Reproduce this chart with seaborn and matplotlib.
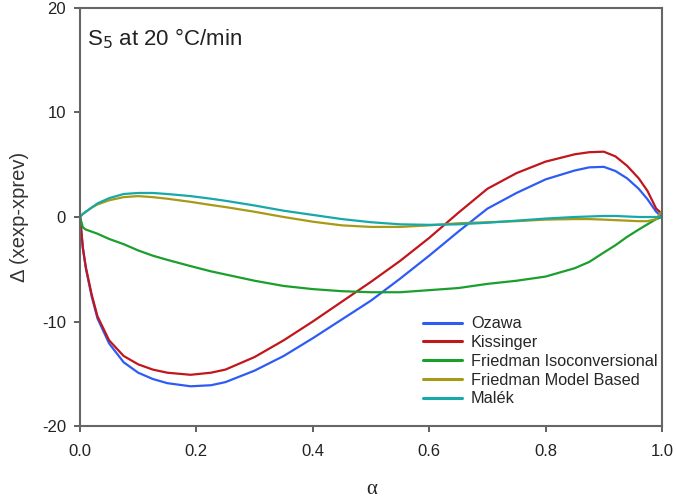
import numpy as np
import pandas as pd
import matplotlib
matplotlib.use("Agg")
import matplotlib.pyplot as plt
import seaborn as sns

alpha = [0, 0.005, 0.01, 0.02, 0.03, 0.05, 0.075, 0.1, 0.125, 0.15, 0.19, 0.225, 0.25,
         0.3, 0.35, 0.4, 0.45, 0.5, 0.55, 0.6, 0.65, 0.7, 0.75, 0.8, 0.85, 0.875, 0.9,
         0.92, 0.94, 0.96, 0.975, 0.99, 1.0]

ozawa = [0, -3.0, -4.9, -7.6, -9.7, -12.1, -13.9, -14.9, -15.5, -15.9, -16.2, -16.1, -15.8,
         -14.7, -13.3, -11.6, -9.8, -8.0, -5.9, -3.7, -1.4, 0.8, 2.3, 3.6, 4.45, 4.75, 4.8,
         4.4, 3.7, 2.7, 1.7, 0.5, 0.0]
kissinger = [0, -3.0, -4.8, -7.4, -9.5, -11.8, -13.3, -14.1, -14.6, -14.9, -15.1, -14.9, -14.6,
             -13.4, -11.8, -10.0, -8.1, -6.2, -4.2, -2.0, 0.4, 2.7, 4.2, 5.3, 6.0, 6.2, 6.25,
             5.8, 4.9, 3.7, 2.5, 0.8, 0.3]
friedman_iso = [0, -1.0, -1.2, -1.4, -1.6, -2.1, -2.6, -3.2, -3.7, -4.1, -4.7, -5.2, -5.5,
                -6.1, -6.6, -6.9, -7.1, -7.2, -7.2, -7.0, -6.8, -6.4, -6.1, -5.7, -4.9, -4.3, -3.4,
                -2.7, -1.9, -1.2, -0.7, -0.2, 0.0]
friedman_model = [0, 0.3, 0.5, 0.9, 1.2, 1.6, 1.9, 2.0, 1.9, 1.75, 1.45, 1.15, 0.95,
                  0.5, 0.0, -0.45, -0.8, -0.95, -0.95, -0.8, -0.6, -0.5, -0.4, -0.25, -0.2, -0.2, -0.25,
                  -0.3, -0.35, -0.4, -0.4, -0.2, 0.6]
malek = [0, 0.3, 0.5, 0.9, 1.3, 1.8, 2.2, 2.3, 2.3, 2.2, 2.0, 1.75, 1.55,
         1.1, 0.6, 0.2, -0.2, -0.5, -0.7, -0.75, -0.7, -0.55, -0.35, -0.15, 0.0, 0.05, 0.1,
         0.1, 0.05, 0.0, 0.0, 0.0, 0.0]

series_names = ["Ozawa", "Kissinger", "Friedman Isoconversional", "Friedman Model Based", "Malék"]
series_vals = [ozawa, kissinger, friedman_iso, friedman_model, malek]
colors = ["#2f5bf5", "#c0161c", "#1a9e2c", "#a89a18", "#17a9a9"]

x_ticks = [0.0, 0.2, 0.4, 0.6, 0.8, 1.0]
y_ticks = [-20, -10, 0, 10, 20]

df = pd.concat([pd.DataFrame({"alpha": alpha, "delta": v, "method": n})
                for n, v in zip(series_names, series_vals)], ignore_index=True)

sns.set_theme(style="white")
plt.rcParams["font.family"] = ["Liberation Sans", "DejaVu Sans"]

fig = plt.figure(figsize=(6.76, 4.97), dpi=100)
ax = fig.add_axes([80/676, 1-426/497, 582/676, 418/497])

sns.lineplot(data=df, x="alpha", y="delta", hue="method", palette=colors,
             hue_order=series_names, linewidth=1.6, ax=ax, sort=False, estimator=None)

ax.set_xlim(0, 1)
ax.set_ylim(-20, 20)
ax.set_xticks(x_ticks)
ax.set_xticklabels([f"{t:.1f}" for t in x_ticks])
ax.set_yticks(y_ticks)
ax.set_yticklabels([str(t) for t in y_ticks])
ax.tick_params(axis="both", direction="out", length=4, width=1.2, color="#444444",
               labelsize=12, labelcolor="#222222", bottom=True, left=True)
ax.tick_params(axis="x", pad=9)
ax.tick_params(axis="y", pad=6)
for s in ax.spines.values():
    s.set_color("#666666")
    s.set_linewidth(1.5)

ax.set_xlabel("")
ax.set_ylabel("")
fig.text(372/676, 1-489/497, "α", fontsize=15, family=["Liberation Serif", "DejaVu Serif"],
         ha="center", va="center", color="#222222")
fig.text(20/676, 1-217/497, "Δ (xexp-xprev)", fontsize=14.5, rotation=90,
         ha="center", va="center", color="#333333")

ax.text(0.012, 0.955, "S$_5$ at 20 °C/min", transform=ax.transAxes, fontsize=16,
        va="top", ha="left", color="#222222")

leg = ax.legend(loc="lower right", bbox_to_anchor=(1.012, 0.02), frameon=False, fontsize=11.7,
                handlelength=2.4, labelspacing=0.23, handletextpad=0.55, borderaxespad=0.3)
for line in leg.get_lines():
    line.set_linewidth(2.2)

fig.savefig("out.png", dpi=100)
